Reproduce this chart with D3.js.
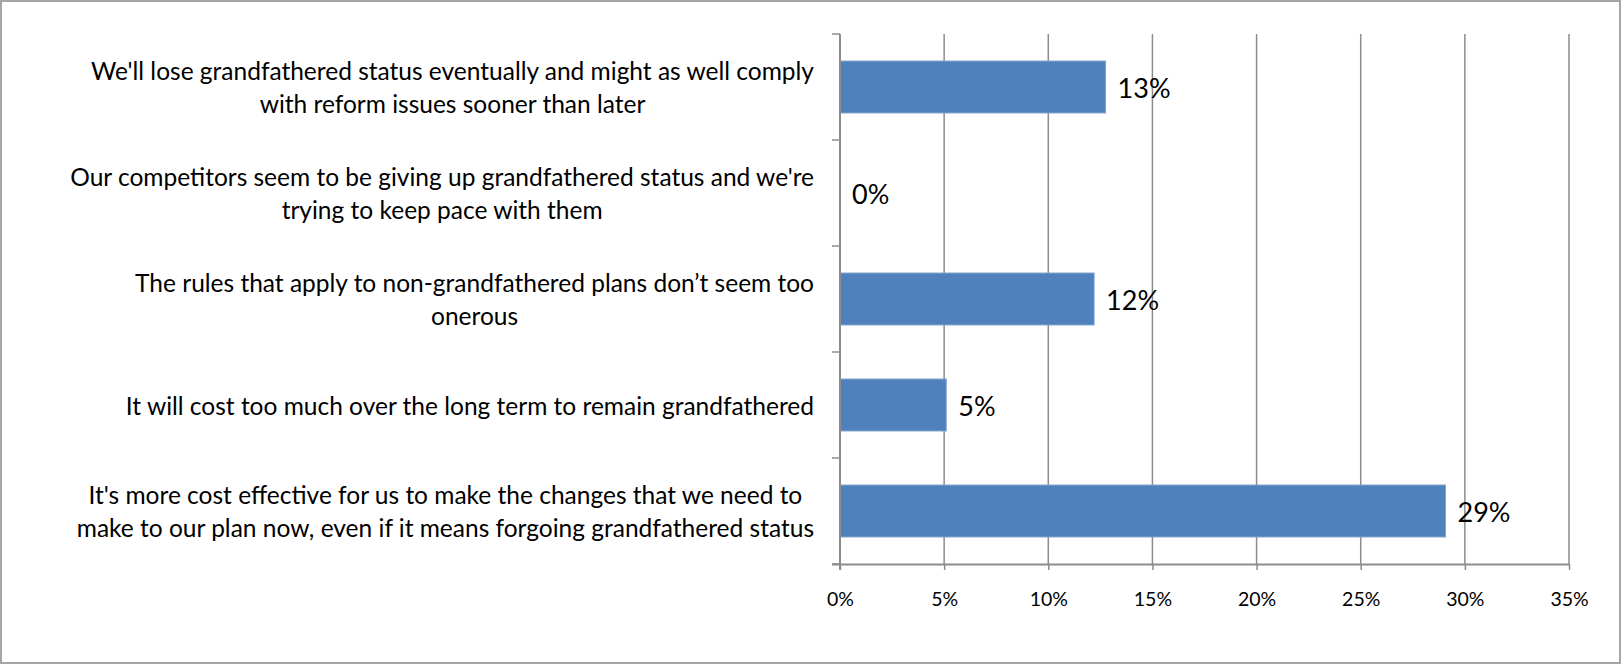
<!DOCTYPE html>
<html>
<head>
<meta charset="utf-8">
<script src="https://cdn.jsdelivr.net/npm/d3@7"></script>
<style>
  html, body { margin: 0; padding: 0; background: #fff; }
  svg { display: block; }
</style>
</head>
<body>
<svg id="chart" width="1621" height="665"></svg>
<script>
const categories = [
  "We'll lose grandfathered status eventually and might as well comply\nwith reform issues sooner than later",
  "Our competitors seem to be giving up grandfathered status and we're\ntrying to keep pace with them",
  "The rules that apply to non-grandfathered plans don\u2019t seem too\nonerous",
  "It will cost too much over the long term to remain grandfathered",
  "It's more cost effective for us to make the changes that we need to\nmake to our plan now, even if it means forgoing grandfathered status"
];
const values = [12.75, 0, 12.2, 5.1, 29.07];
const valueLabels = ["13%", "0%", "12%", "5%", "29%"];
const xTicks = [0, 5, 10, 15, 20, 25, 30, 35];
const xTickLabels = ["0%", "5%", "10%", "15%", "20%", "25%", "30%", "35%"];

const W = 1621, H = 665;
const plot = { left: 840, right: 1569, top: 34, bottom: 564 };
const FONT = "Lato, 'Open Sans', sans-serif";
const gridColor = "#8c8c8c";

const svg = d3.select("#chart");

// outer frame
svg.append("rect")
  .attr("x", 1).attr("y", 1).attr("width", W - 2).attr("height", H - 3)
  .attr("fill", "#fff").attr("stroke", "#a6a6a6").attr("stroke-width", 2);

const x = d3.scaleLinear().domain([0, 35]).range([plot.left, plot.right]);
const y = d3.scaleBand().domain(categories).range([plot.top, plot.bottom])
  .paddingInner(0.51).paddingOuter(0.255);

// vertical gridlines
svg.append("g").selectAll("line").data(xTicks.slice(1)).join("line")
  .attr("x1", d => x(d)).attr("x2", d => x(d))
  .attr("y1", plot.top).attr("y2", plot.bottom)
  .attr("stroke", gridColor).attr("stroke-width", 1.5);

// bars
svg.append("g").selectAll("rect").data(values).join("rect")
  .attr("x", x(0))
  .attr("y", (d, i) => y(categories[i]))
  .attr("width", d => x(d) - x(0))
  .attr("height", y.bandwidth())
  .attr("fill", "#4f81bd")
  .attr("stroke", d => d > 0 ? "#7ea3d1" : "none")
  .attr("stroke-width", 1);

// x axis
const xAxis = d3.axisBottom(x).tickValues(xTicks)
  .tickFormat((d, i) => xTickLabels[i]).tickSize(6).tickSizeOuter(0).tickPadding(22);
const gx = svg.append("g").attr("transform", `translate(0,${plot.bottom})`).call(xAxis);
gx.select(".domain").attr("stroke", gridColor).attr("stroke-width", 2)
  .attr("d", `M${plot.left - 8},0.5H${plot.right}`);
gx.selectAll(".tick line").attr("stroke", gridColor).attr("stroke-width", 1.5);
gx.selectAll(".tick text").attr("font-family", FONT).attr("font-size", 19.5)
  .attr("fill", "#000");

// y axis line + ticks at band boundaries
const boundaries = d3.range(categories.length + 1).map(i => plot.top + i * y.step());
svg.append("line")
  .attr("x1", plot.left).attr("x2", plot.left)
  .attr("y1", plot.top).attr("y2", plot.bottom + 6)
  .attr("stroke", gridColor).attr("stroke-width", 2);
svg.append("g").selectAll("line").data(boundaries).join("line")
  .attr("x1", plot.left - 8).attr("x2", plot.left)
  .attr("y1", d => d).attr("y2", d => d)
  .attr("stroke", gridColor).attr("stroke-width", 1.5);

// category labels: fit font so the longest first line matches reference width
const probe = svg.append("text").attr("font-family", FONT).attr("font-size", 100)
  .text(categories[0].split("\n")[0]);
const probeW = probe.node().getComputedTextLength();
probe.remove();
const catSize = 100 * 723 / probeW;
const lineH = 33;
const labelRight = 814;

const cat = svg.append("g").selectAll("g").data(categories).join("g");
cat.each(function (c) {
  const g = d3.select(this);
  const lines = c.split("\n");
  const t = g.append("text").attr("font-family", FONT).attr("font-size", catSize)
    .attr("fill", "#000").attr("text-anchor", "middle");
  lines.forEach((ln, k) => {
    t.append("tspan").attr("x", 0)
      .attr("y", (k - (lines.length - 1) / 2) * lineH + 1)
      .attr("dy", "0.35em").text(ln);
  });
  let maxW = 0;
  t.selectAll("tspan").each(function () {
    maxW = Math.max(maxW, this.getComputedTextLength());
  });
  g.attr("transform", `translate(${labelRight - maxW / 2},${y(c) + y.bandwidth() / 2})`);
});

// value labels
svg.append("g").selectAll("text").data(values).join("text")
  .attr("x", d => x(d) + 12)
  .attr("y", (d, i) => y(categories[i]) + y.bandwidth() / 2 + 2)
  .attr("dy", "0.35em")
  .attr("font-family", FONT).attr("font-size", 27).attr("fill", "#000")
  .text((d, i) => valueLabels[i]);
</script>
</body>
</html>
